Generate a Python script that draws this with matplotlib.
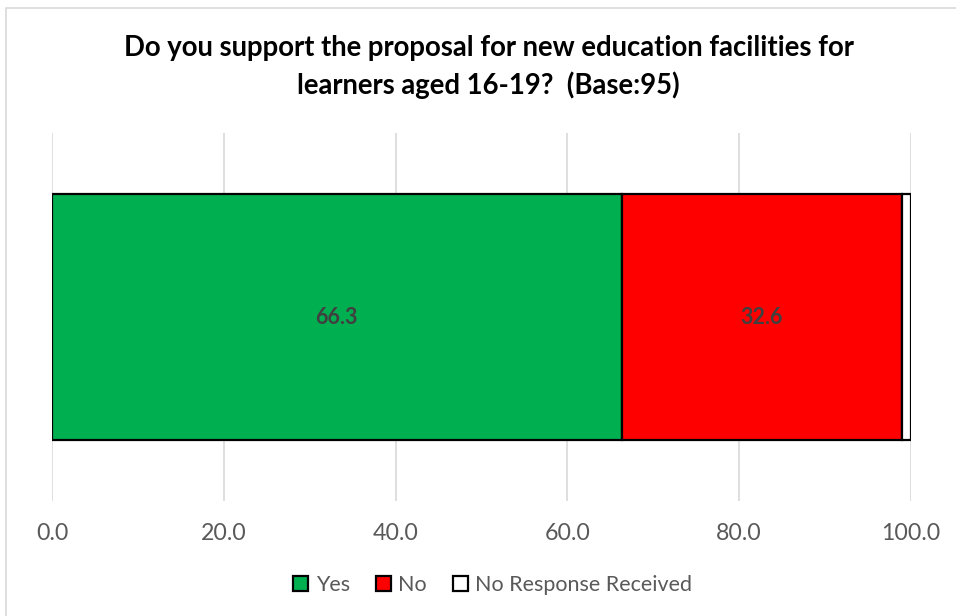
import matplotlib.pyplot as plt
from matplotlib.patches import Rectangle

plt.rcParams['font.family'] = ['Lato', 'DejaVu Sans']

categories = ['']
series_names = ['Yes', 'No', 'No Response Received']
series_values = [[66.3], [32.6], [1.1]]
series_colors = ['#00B050', '#FF0000', '#FFFFFF']
xticks = [0, 20, 40, 60, 80, 100]

fig = plt.figure(figsize=(9.56, 6.16), dpi=100)
ax = fig.add_axes([0.0544, 0.1867, 0.8985, 0.597])

# outer chart border (runs off the right and bottom edges)
fig.patches.append(Rectangle((0.006, -0.05), 1.1, 1.037, transform=fig.transFigure,
                             fill=False, edgecolor='#D9D9D9', linewidth=1.2))

left = [0.0] * len(categories)
for name, vals, col in zip(series_names, series_values, series_colors):
    bars = ax.barh(categories, vals, left=left, height=0.668, color=col,
                   edgecolor='black', linewidth=1.6, label=name, zorder=3)
    if name != 'No Response Received':
        for b, v in zip(bars, vals):
            ax.text(b.get_x() + b.get_width() / 2, b.get_y() + b.get_height() / 2,
                    f'{v:.1f}', ha='center', va='center', fontsize=15.5,
                    fontweight='bold', color='#404040', zorder=4)
    left = [l + v for l, v in zip(left, vals)]

ax.set_xlim(0, 100)
ax.set_ylim(-0.5, 0.5)
ax.set_xticks(xticks)
ax.set_xticklabels([f'{t:.1f}' for t in xticks], fontsize=16.7, color='#595959')
ax.tick_params(axis='x', length=0, pad=16)
ax.set_yticks([])
ax.grid(axis='x', color='#D9D9D9', linewidth=1.2, zorder=0)
for s in ax.spines.values():
    s.set_visible(False)

fig.text(0.511, 0.891, 'Do you support the proposal for new education facilities for\n'
         'learners aged 16-19?  (Base:95)', ha='center', va='center',
         fontsize=19.8, fontweight='bold', color='black', linespacing=1.45)

ax.legend(loc='center', bbox_to_anchor=(0.513, -0.229), ncol=3, frameon=False,
          fontsize=15.5, handlelength=0.7, handleheight=0.7, handletextpad=0.35,
          columnspacing=1.2, labelcolor='#595959')

fig.savefig('out.png', dpi=100)
